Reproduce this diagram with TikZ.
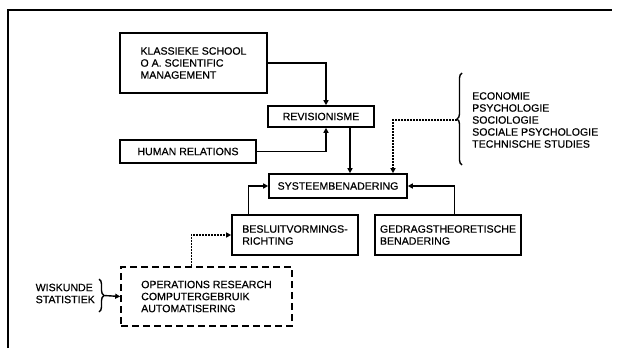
\documentclass[tikz,border=0pt]{standalone}
\usepackage{fontspec}
\setmainfont{Liberation Sans}[FakeBold=0.5]
\usetikzlibrary{arrows.meta,decorations.pathreplacing}
\begin{document}
\begin{tikzpicture}[x=1pt,y=-1pt,
  every node/.style={font=\fontsize{10.6}{12}\selectfont},
  box/.style={draw,line width=1.6pt,rectangle,inner sep=0pt,align=left},
  dbox/.style={box,dash pattern=on 7pt off 4pt},
  arr/.style={line width=1.4pt,-{Triangle[length=5pt,width=5pt]}},
  darr/.style={arr,line width=1.2pt,dash pattern=on 2pt off 1pt},
  brc/.style={line width=1.4pt,decorate,decoration={brace,amplitude=5pt}},
  frame/.style={line width=2.5pt}]
\useasboundingbox (0,0) rectangle (621,348);
\draw[frame] (8,348) -- (8,10) -- (612,10);
\node[box,minimum width=147,minimum height=60] (klass) at (193.5,63) {KLASSIEKE SCHOOL\\O A. SCIENTIFIC\\MANAGEMENT};
\node[box,minimum width=106,minimum height=21] (rev) at (321,116.5) {REVISIONISME};
\node[box,minimum width=136,minimum height=23] (hr) at (188,151.5) {HUMAN RELATIONS};
\node[box,minimum width=138,minimum height=24] (sys) at (338,186) {SYSTEEMBENADERING};
\node[box,minimum width=126,minimum height=40] (bes) at (295,235) {BESLUITVORMINGS-\\RICHTING};
\node[box,minimum width=146,minimum height=40] (ged) at (448,235) {GEDRAGSTHEORETISCHE\\BENADERING};
\node[dbox,minimum width=171,minimum height=59] (or) at (206.5,296.5) {OPERATIONS RESEARCH\\COMPUTERGEBRUIK\\AUTOMATISERING};
\node[anchor=west,align=left,inner sep=0pt] (list) at (472,120) {ECONOMIE\\PSYCHOLOGIE\\SOCIOLOGIE\\SOCIALE PSYCHOLOGIE\\TECHNISCHE STUDIES};
\node[anchor=east,align=left,inner sep=0pt] (wis) at (95,293.5) {WISKUNDE\\STATISTIEK};
\coordinate (b1) at (462,165);
\coordinate (b2) at (462,73);
\coordinate (bt) at (457,120);
\draw[brc] (b1) -- (b2);
\coordinate (w1) at (99,279);
\coordinate (w2) at (99,312);
\coordinate (wt) at (104,295.5);
\draw[brc] (w1) -- (w2);
\draw[arr] (klass.east) -| ([xshift=5pt]rev.north);
\draw[arr] (hr.east) -| ([xshift=5pt]rev.south);
\draw[arr] ([xshift=29pt]rev.south) -- ([xshift=29pt]rev.south |- sys.north);
\draw[arr] ([xshift=17pt]bes.north west) |- (sys.west);
\draw[arr] ([xshift=80pt]ged.north west) |- (sys.east);
\draw[darr] (bt) -| ([xshift=55pt]sys.north);
\draw[darr] ([xshift=71pt]or.north west) |- (bes.west);
\draw[arr] (wt) -- (or.west);
\end{tikzpicture}
\end{document}
